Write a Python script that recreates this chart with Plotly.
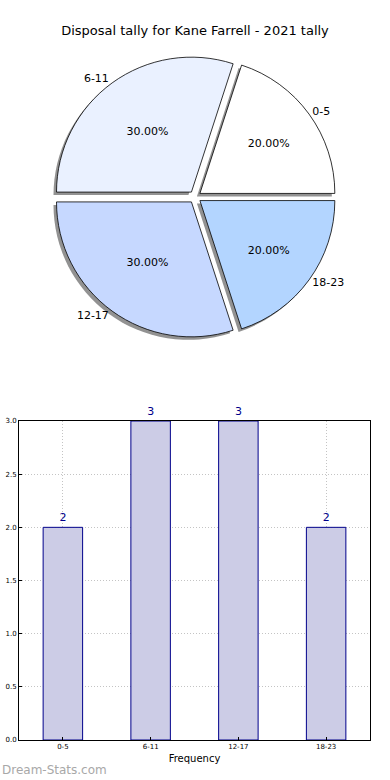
import plotly.graph_objects as go

categories = ["0-5", "6-11", "12-17", "18-23"]
counts = [2, 3, 3, 2]
pie_colors = ["#ffffff", "#eaf1ff", "#c6d8ff", "#b3d5ff"]
title_text = "Disposal tally for Kane Farrell - 2021 tally"
y_ticks = [0.0, 0.5, 1.0, 1.5, 2.0, 2.5, 3.0]

FONT = "DejaVu Sans"
W, H = 390, 780
ML, MR, MT, MB = 19, 20, 0, 40
PW, PH = W - ML - MR, H - MT - MB

def fx(px):
    return (px - ML) / PW

def fy(py):
    return (H - MB - py) / PH

ROT = 18
pull = [0.045] * 4
pcx, pcy, half = 195, 197, 141
dom_x = [fx(pcx - half), fx(pcx + half)]
dom_y = [fy(pcy + half), fy(pcy - half)]
sh = 3
shadow_x = [fx(pcx - half - sh), fx(pcx + half - sh)]
shadow_y = [fy(pcy + half + sh), fy(pcy - half + sh)]

fig = go.Figure()

# shadow
fig.add_trace(go.Pie(
    labels=categories, values=counts, sort=False, direction="counterclockwise",
    rotation=ROT, pull=pull, domain=dict(x=shadow_x, y=shadow_y), automargin=False,
    marker=dict(colors=["rgba(110,110,110,0.75)"] * 4, line=dict(width=0)),
    textinfo="none", hoverinfo="skip", showlegend=False,
))
# main pie with percentages
fig.add_trace(go.Pie(
    labels=categories, values=counts, sort=False, direction="counterclockwise",
    rotation=ROT, pull=pull, domain=dict(x=dom_x, y=dom_y), automargin=False,
    marker=dict(colors=pie_colors, line=dict(color="black", width=0.8)),
    texttemplate="%{percent:.2%}", textposition="inside", insidetextorientation="horizontal",
    textfont=dict(family=FONT, size=11, color="black"),
    showlegend=False,
))
# outside labels
fig.add_trace(go.Pie(
    labels=categories, values=counts, sort=False, direction="counterclockwise",
    rotation=ROT, pull=[0.24] * 4, domain=dict(x=dom_x, y=dom_y), automargin=False,
    marker=dict(colors=["rgba(0,0,0,0)"] * 4, line=dict(width=0)),
    texttemplate="%{label}", textposition="outside",
    textfont=dict(family=FONT, size=11, color="black"),
    hoverinfo="skip", showlegend=False,
))

fig.add_trace(go.Bar(
    x=categories, y=counts, width=0.45,
    marker=dict(color="#ccccE6", line=dict(color="#00008b", width=1)),
    text=[str(c) for c in counts], textposition="outside", cliponaxis=False,
    textfont=dict(family=FONT, size=11, color="#00008b"),
    showlegend=False,
))

fig.update_layout(
    width=W, height=H, autosize=False,
    margin=dict(l=ML, r=MR, t=MT, b=MB, autoexpand=False),
    paper_bgcolor="white", plot_bgcolor="white",
    font=dict(family=FONT, color="black"),
    title=dict(text=title_text, x=0.5, xref="container", y=1 - 30 / H, yref="container",
               xanchor="center", yanchor="middle", font=dict(family=FONT, size=13)),
    xaxis=dict(
        domain=[0, 1], range=[-0.5, 3.5], type="category", automargin=False,
        showline=True, linecolor="black", linewidth=1, mirror=True,
        showgrid=True, gridcolor="#c4c4c4", griddash="1px,2px", gridwidth=1,
        ticks="inside", ticklen=3, tickcolor="black",
        tickfont=dict(family=FONT, size=7),
        title=dict(text="Frequency", font=dict(family=FONT, size=10), standoff=4),
    ),
    yaxis=dict(
        domain=[0, fy(421)], range=[0, 3], automargin=False,
        tickvals=y_ticks, ticktext=[f"{v:.1f}" for v in y_ticks],
        showline=True, linecolor="black", linewidth=1, mirror=True,
        showgrid=True, gridcolor="#c4c4c4", griddash="1px,2px", gridwidth=1,
        ticks="inside", ticklen=3, tickcolor="black",
        tickfont=dict(family=FONT, size=7), zeroline=False,
    ),
    annotations=[dict(
        text="Dream-Stats.com", xref="paper", yref="paper",
        x=fx(0), y=fy(770), xanchor="left", yanchor="middle", showarrow=False,
        font=dict(family=FONT, size=12, color="#a8a8a8"),
    )],
)

fig.write_html(
    "out.html",
    config={"displayModeBar": False, "responsive": False},
    post_script="document.body.style.margin='0';document.body.style.overflow='hidden';",
)
